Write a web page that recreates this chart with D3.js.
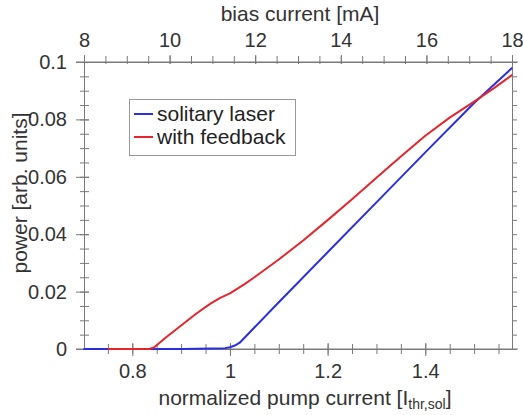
<!DOCTYPE html>
<html>
<head>
<meta charset="utf-8">
<script src="https://cdn.jsdelivr.net/npm/d3@7"></script>
<style>
  html, body { margin: 0; padding: 0; background: #fff; }
  svg { display: block; font-family: "Liberation Sans", Arial, sans-serif; }
</style>
</head>
<body>
<svg id="chart" width="523" height="415"></svg>
<script>
// ---- data (normalized pump current vs power) ----
const pumpSolitary  = [0.70, 0.90, 0.99, 1.00, 1.01, 1.02, 1.05, 1.10, 1.20, 1.30, 1.40, 1.50, 1.578];
const powerSolitary = [0.0, 0.0, 0.0003, 0.0006, 0.0012, 0.0022, 0.0075, 0.0163, 0.0337, 0.0511, 0.0685, 0.0857, 0.0980];

const pumpFeedback  = [0.75, 0.80, 0.835, 0.845, 0.87, 0.90, 0.93, 0.96, 0.98, 1.00, 1.03, 1.06, 1.10, 1.15, 1.20, 1.25, 1.30, 1.35, 1.40, 1.45, 1.50, 1.54, 1.578];
const powerFeedback = [0.0, 0.0, 0.0, 0.0006, 0.0042, 0.0082, 0.0122, 0.0158, 0.0178, 0.0194, 0.0226, 0.0262, 0.0312, 0.0378, 0.0449, 0.0522, 0.0597, 0.0671, 0.0743, 0.0806, 0.0862, 0.0908, 0.0955];

const seriesNames  = ["solitary laser", "with feedback"];
const seriesColors = ["#2b2fe0", "#e6262c"];

const bottomMajorTicks = [0.8, 1.0, 1.2, 1.4];
const leftMajorTicks   = [0, 0.02, 0.04, 0.06, 0.08, 0.1];
const topMajorTicks    = [8, 10, 12, 14, 16, 18];

const xTitle = "normalized pump current [I";
const xTitleSub = "thr,sol";
const yTitle = "power [arb. units]";
const topTitle = "bias current [mA]";

// ---- layout ----
const svg = d3.select("#chart");
const L = 84, R = 512, T = 62, B = 349;
const axisColor = "#7a7a7a";
const textColor = "#333";

const x = d3.scaleLinear().domain([0.7011, 1.5776]).range([L, R]);
const xTop = d3.scaleLinear().domain([8, 18]).range([L, R]);
const y = d3.scaleLinear().domain([0, 0.1]).range([B, T]);

const bottomMinor = d3.range(0.75, 1.576, 0.05).map(v => +v.toFixed(3));
const leftMinor = d3.range(0, 0.1001, 0.005).map(v => +v.toFixed(4));
const topMinor = d3.range(8, 18.01, 0.5);

function styleAxis(g) {
  g.select(".domain").attr("stroke", axisColor).attr("stroke-width", 1);
  g.selectAll(".tick line").attr("stroke", axisColor).attr("stroke-width", 1);
  g.selectAll(".tick text").attr("fill", textColor).attr("font-size", 20)
    .attr("font-family", "Liberation Sans, Arial, sans-serif");
}

// left minor ticks (straddle)
const gLeftMinor = svg.append("g").attr("transform", `translate(${L},0)`)
  .call(d3.axisLeft(y).tickValues(leftMinor).tickFormat("").tickSizeOuter(0));
styleAxis(gLeftMinor);
gLeftMinor.selectAll(".tick line").attr("x1", 5).attr("x2", -4);

// left major ticks with labels
const gLeft = svg.append("g").attr("transform", `translate(${L},0)`)
  .call(d3.axisLeft(y).tickValues(leftMajorTicks).tickFormat(d3.format(".2~f")).tickSizeOuter(0).tickPadding(11));
styleAxis(gLeft);
gLeft.selectAll(".tick line").attr("x1", 5).attr("x2", -8);

// right ticks
const gRight = svg.append("g").attr("transform", `translate(${R},0)`)
  .call(d3.axisRight(y).tickValues(leftMinor).tickFormat("").tickSizeOuter(0).tickSize(5));
styleAxis(gRight);

// bottom minor ticks
const gBottomMinor = svg.append("g").attr("transform", `translate(0,${B})`)
  .call(d3.axisBottom(x).tickValues(bottomMinor).tickFormat("").tickSizeOuter(0));
styleAxis(gBottomMinor);
gBottomMinor.selectAll(".tick line").attr("y1", -5).attr("y2", 5);

// bottom major ticks with labels
const gBottom = svg.append("g").attr("transform", `translate(0,${B})`)
  .call(d3.axisBottom(x).tickValues(bottomMajorTicks).tickFormat(d3.format(".1~f")).tickSizeOuter(0).tickPadding(10));
styleAxis(gBottom);
gBottom.selectAll(".tick line").attr("y1", -6).attr("y2", 7);
gBottom.selectAll(".tick text").attr("y", 15);

// top minor ticks
const gTopMinor = svg.append("g").attr("transform", `translate(0,${T})`)
  .call(d3.axisTop(xTop).tickValues(topMinor).tickFormat("").tickSizeOuter(0));
styleAxis(gTopMinor);
gTopMinor.selectAll(".tick line").attr("y1", 2).attr("y2", -6);

// top major ticks with labels
const gTop = svg.append("g").attr("transform", `translate(0,${T})`)
  .call(d3.axisTop(xTop).tickValues(topMajorTicks).tickFormat(d3.format("d")).tickSizeOuter(0));
styleAxis(gTop);
gTop.selectAll(".tick line").attr("y1", 2).attr("y2", -7);
gTop.selectAll(".tick text").attr("y", -15);

// extend frame lines slightly like reference
svg.append("line").attr("x1", L - 8).attr("x2", R + 6).attr("y1", T).attr("y2", T)
  .attr("stroke", axisColor);
svg.append("line").attr("x1", L - 8).attr("x2", R + 6).attr("y1", B).attr("y2", B)
  .attr("stroke", axisColor);

// ---- lines ----
const line = d3.line().x(d => x(d[0])).y(d => y(d[1]));
const solData = pumpSolitary.map((p, i) => [p, powerSolitary[i]]);
const fbData = pumpFeedback.map((p, i) => [p, powerFeedback[i]]);

svg.append("path").datum(solData).attr("d", line)
  .attr("fill", "none").attr("stroke", seriesColors[0]).attr("stroke-width", 2)
  .attr("stroke-linejoin", "round");
svg.append("path").datum(fbData).attr("d", line)
  .attr("fill", "none").attr("stroke", seriesColors[1]).attr("stroke-width", 2)
  .attr("stroke-linejoin", "round");

// ---- axis titles ----
svg.append("text").attr("x", 300).attr("y", 21).attr("text-anchor", "middle")
  .attr("font-size", 21).attr("fill", textColor).text(topTitle);

const xt = svg.append("text").attr("x", 305).attr("y", 405).attr("text-anchor", "middle")
  .attr("font-size", 21).attr("fill", textColor);
xt.append("tspan").text(xTitle);
xt.append("tspan").attr("font-size", 14).attr("dy", 4).text(xTitleSub);
xt.append("tspan").attr("dy", -4).text("]");

svg.append("text").attr("transform", "translate(27,193) rotate(-90)")
  .attr("text-anchor", "middle").attr("font-size", 21).attr("fill", textColor).text(yTitle);

// ---- legend ----
const lg = svg.append("g");
lg.append("rect").attr("x", 129.5).attr("y", 99.5).attr("width", 166).attr("height", 56)
  .attr("fill", "#fff").attr("stroke", "#999").attr("stroke-width", 1);
seriesNames.forEach((name, i) => {
  const yy = 114 + i * 23;
  lg.append("line").attr("x1", 134).attr("x2", 153).attr("y1", yy).attr("y2", yy)
    .attr("stroke", seriesColors[i]).attr("stroke-width", 2);
  lg.append("text").attr("x", 157).attr("y", yy + 7).attr("font-size", 21)
    .attr("fill", "#222").text(name);
});
</script>
</body>
</html>
